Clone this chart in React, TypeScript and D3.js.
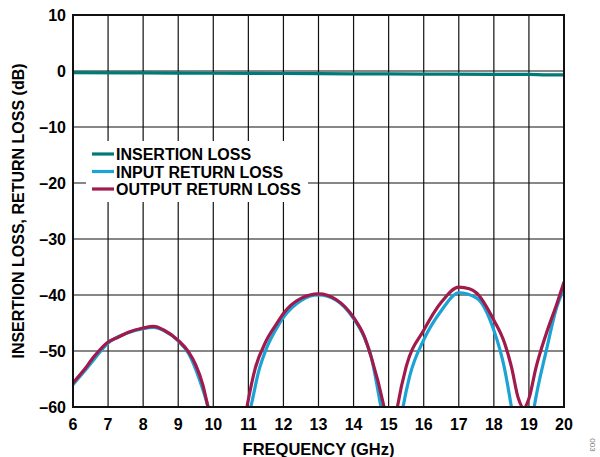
import * as d3 from "d3";

// frequency (GHz) / dB pairs
const insertionF = [6, 8, 10, 12, 14, 16, 18, 19, 19.5, 20];
const insertionDb = [-0.3, -0.35, -0.4, -0.45, -0.5, -0.55, -0.6, -0.6, -0.7, -0.7];

const inputF = [6.0, 6.3, 6.6, 7.0, 7.5, 8.0, 8.3, 8.6, 9.0, 9.3, 9.6, 9.85, 10.0, 10.9, 11.07, 11.3, 11.5, 11.8, 12.0, 12.5, 13.0, 13.5, 14.0, 14.3, 14.5, 14.78, 14.9, 15.3, 15.41, 15.6, 16.0, 16.5, 17.0, 17.5, 18.0, 18.3, 18.5, 18.6, 19.05, 19.15, 19.5, 19.8, 20.0];
const inputDb = [-56.0, -53.8, -51.5, -48.6, -46.9, -46.0, -45.8, -46.4, -48.2, -50.5, -55, -60, -64, -64, -60, -53.5, -49.8, -46, -44, -41, -40.0, -40.9, -44.2, -47.5, -51, -60, -64, -64, -60, -54.5, -48, -42.8, -39.6, -40.5, -46.3, -53, -60, -64, -64, -60, -49.8, -42, -38.9];

const outputF = [6.0, 6.3, 6.6, 7.0, 7.3, 7.6, 8.0, 8.3, 8.6, 9.0, 9.3, 9.5, 9.7, 9.85, 10.0, 10.85, 10.96, 11.2, 11.5, 11.8, 12.0, 12.5, 13.0, 13.5, 14.0, 14.3, 14.5, 14.87, 15.0, 15.15, 15.25, 15.5, 16.0, 16.5, 17.0, 17.3, 17.5, 18.0, 18.3, 18.5, 18.7, 18.85, 19.0, 19.2, 19.5, 19.8, 20.0];
const outputDb = [-55.7, -53.5, -51, -48.4, -47.5, -46.6, -45.9, -45.6, -46.3, -48.1, -50.2, -52.5, -56, -60, -64, -64, -60, -53, -48.3, -45.2, -43.3, -40.6, -39.8, -40.8, -44, -47.3, -51, -60, -64, -64, -60, -52.8, -46.3, -41.3, -38.6, -38.9, -39.6, -44.5, -48.5, -52.8, -58.5, -60.2, -58.5, -53, -46.8, -41.5, -37.7];

const xTicks = d3.range(6, 21);
const yTicks = [10, 0, -10, -20, -30, -40, -50, -60];
const legendNames = ["INSERTION LOSS", "INPUT RETURN LOSS", "OUTPUT RETURN LOSS"];
const colors = ["#007a78", "#1ca3d6", "#a01a4c"];

const left = 73, right = 564, top = 15, bottom = 407;
const font = "'Liberation Sans', Arial, sans-serif";

export default function App() {
  const x = d3.scaleLinear().domain([6, 20]).range([left, right]);
  const y = d3.scaleLinear().domain([-60, 10]).range([bottom, top]);

  const line = d3.line<[number, number]>()
    .x(d => x(d[0]))
    .y(d => y(d[1]))
    .curve(d3.curveMonotoneX);

  const series = [
    insertionF.map((f, i) => [f, insertionDb[i]] as [number, number]),
    inputF.map((f, i) => [f, inputDb[i]] as [number, number]),
    outputF.map((f, i) => [f, outputDb[i]] as [number, number]),
  ];

  const fmt = (v: number) => (v < 0 ? "\u2013" + Math.abs(v) : String(v));

  return (
    <svg width={600} height={457} style={{ position: "absolute", left: 0, top: 0 }} fontFamily={font}>
      <rect width={600} height={457} fill="white" />
      <defs>
        <clipPath id="plot">
          <rect x={left} y={top} width={right - left} height={bottom - top} />
        </clipPath>
      </defs>
      {xTicks.map(t => (
        <line key={"gx" + t} x1={x(t)} x2={x(t)} y1={top} y2={bottom} stroke="#111" strokeWidth={1.2} />
      ))}
      {yTicks.map(t => (
        <line key={"gy" + t} x1={left} x2={right} y1={y(t)} y2={y(t)} stroke="#111" strokeWidth={1.2} />
      ))}
      <rect x={86} y={141} width={222} height={61} fill="white" />
      <g clipPath="url(#plot)">
        {[1, 2, 0].map(i => (
          <path key={"s" + i} d={line(series[i]) || ""} fill="none" stroke={colors[i]} strokeWidth={3.2} strokeLinejoin="round" />
        ))}
      </g>
      <rect x={left} y={top} width={right - left} height={bottom - top} fill="none" stroke="#111" strokeWidth={2} />
      {xTicks.map(t => (
        <text key={"tx" + t} x={x(t)} y={430} textAnchor="middle" fontSize={16} fontWeight="bold">{t}</text>
      ))}
      {yTicks.map(t => (
        <text key={"ty" + t} x={66} y={y(t) + 6} textAnchor="end" fontSize={16} fontWeight="bold">{fmt(t)}</text>
      ))}
      <text x={(left + right) / 2} y={455} textAnchor="middle" fontSize={16.5} fontWeight="bold">FREQUENCY (GHz)</text>
      <text transform={`translate(24 ${(top + bottom) / 2}) rotate(-90)`} textAnchor="middle" fontSize={16} fontWeight="bold">
        INSERTION LOSS, RETURN LOSS (dB)
      </text>
      {legendNames.map((n, i) => (
        <g key={n} transform={`translate(92 ${154 + i * 17.5})`}>
          <line x1={0} x2={22} y1={0} y2={0} stroke={colors[i]} strokeWidth={3.2} />
          <text x={24} y={6} fontSize={16} fontWeight="bold">{n}</text>
        </g>
      ))}
      <text transform="translate(590 445) rotate(90)" textAnchor="middle" fontSize={8} fill="#777">003</text>
    </svg>
  );
}
